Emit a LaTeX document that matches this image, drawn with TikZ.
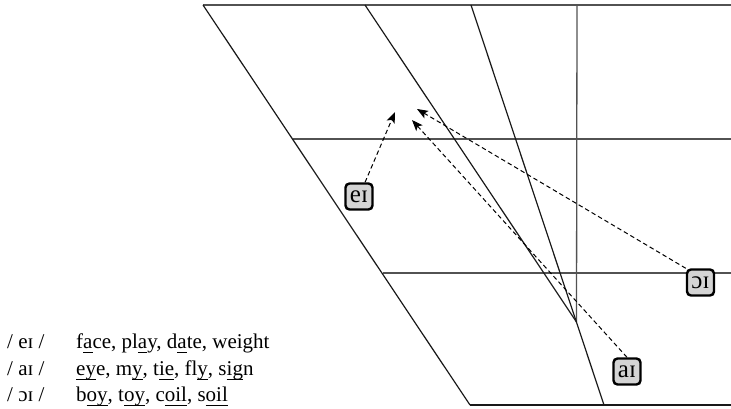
\documentclass[tikz,border=0pt]{standalone}
\usepackage{fontspec}
\setmainfont{Liberation Serif}
\usetikzlibrary{arrows.meta}
\newcommand\ulx[1]{{\setbox0=\hbox{#1}\rlap{\rule[-4.5pt]{\wd0}{0.9pt}}\box0}}
\begin{document}
\begin{tikzpicture}[x=1pt,y=-1pt,
  gridline/.style={line width=1.3pt, black!68},
  slantline/.style={line width=1.2pt, black!90},
  vbox/.style={draw=black, line width=2.4pt, fill=black!17, rounded corners=4pt,
    minimum width=27pt, minimum height=26pt, inner sep=0pt,
    font=\fontsize{25}{25}\selectfont},
  darr/.style={line width=1pt, dash pattern=on 4.5pt off 3pt,
    -{Stealth[length=11pt,width=8.5pt,inset=2.5pt]}},
  lg/.style={anchor=base west, inner sep=0pt, font=\fontsize{21}{24}\selectfont}]
\useasboundingbox (0,0) rectangle (731,409);
% grid coordinates
\coordinate (TL) at (203,5);
\coordinate (TR) at (731,5);
\coordinate (BL) at (470,405);
\coordinate (BR) at (731,405);
\coordinate (H1L) at (293,139);
\coordinate (H1R) at (731,139);
\coordinate (H2L) at (383,273);
\coordinate (H2R) at (731,273);
\coordinate (A1) at (365,5);
\coordinate (B1) at (471,5);
\coordinate (B2) at (604,405);
\coordinate (M) at (576.5,322);
\coordinate (V1) at (577,5);
% grid
\draw[gridline] (TL) -- (TR);
\draw[gridline] (H1L) -- (H1R);
\draw[gridline] (H2L) -- (H2R);
\draw[gridline] (V1) -- (M);
\draw[slantline] (BL) -- (BR);
\draw[slantline] (TL) -- (BL);
\draw[slantline] (A1) -- (M);
\draw[slantline] (B1) -- (B2);
% boxes
\node[vbox] (ei) at (359,196.5) {eɪ};
\node[vbox] (oi) at (700.5,282.5) {ɔɪ};
\node[vbox] (ai) at (627,371.5) {aɪ};
% arrow tips
\coordinate (t1) at (395,112);
\coordinate (t2) at (412,120);
\coordinate (t3) at (417,109);
\draw[darr] (ei) -- (t1);
\draw[darr] (ai.north) -- (t2);
\draw[darr] (oi.north west) -- (t3);
% legend
\node[lg] (l1a) at (7,348.5) {/ eɪ /};
\node[lg] (l1b) at (76,348.5) {f\ulx{a}ce, pl\ulx{a}y, d\ulx{a}te, weight};
\node[lg] (l2a) at (7,375) {/ aɪ /};
\node[lg] (l2b) at (76,375) {\ulx{ey}e, m\ulx{y}, t\ulx{ie}, fl\ulx{y}, s\ulx{ig}n};
\node[lg] (l3a) at (7,401) {/ ɔɪ /};
\node[lg] (l3b) at (76,401) {b\ulx{oy}, t\ulx{oy}, c\ulx{oil}, s\ulx{oil}};
\end{tikzpicture}
\end{document}
